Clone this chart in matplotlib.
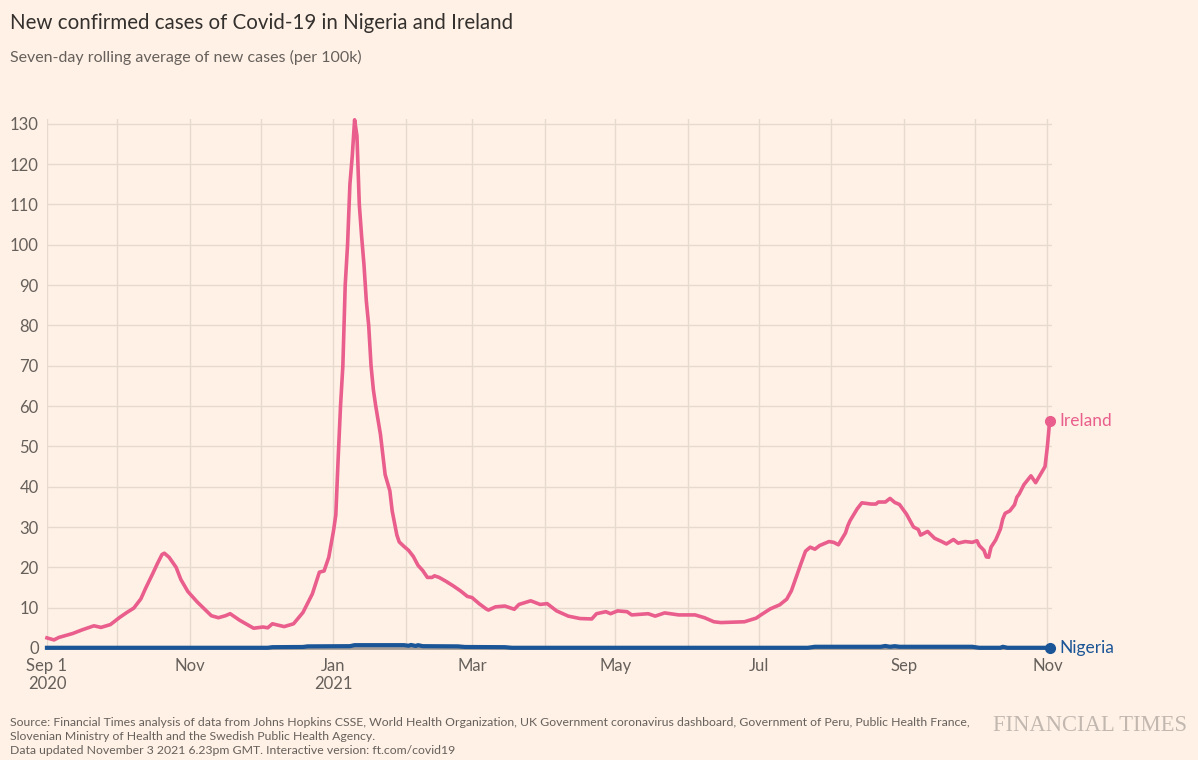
import numpy as np
import pandas as pd
import matplotlib
matplotlib.use("Agg")
import matplotlib.pyplot as plt
import matplotlib.dates as mdates

# Ireland, seven-day average of new cases per 100k
ireland_dates = [
    "2020-09-01", "2020-09-04", "2020-09-06", "2020-09-09", "2020-09-12", "2020-09-16",
    "2020-09-21", "2020-09-24", "2020-09-28", "2020-10-02", "2020-10-05", "2020-10-08",
    "2020-10-11", "2020-10-13", "2020-10-16", "2020-10-18", "2020-10-20", "2020-10-21",
    "2020-10-23", "2020-10-26", "2020-10-28", "2020-10-31", "2020-11-04", "2020-11-07",
    "2020-11-10", "2020-11-13", "2020-11-16", "2020-11-18", "2020-11-22", "2020-11-25",
    "2020-11-28", "2020-12-02", "2020-12-04", "2020-12-06", "2020-12-11", "2020-12-15",
    "2020-12-19", "2020-12-23", "2020-12-26", "2020-12-28", "2020-12-30", "2021-01-01",
    "2021-01-02", "2021-01-03", "2021-01-04", "2021-01-05", "2021-01-06", "2021-01-07",
    "2021-01-08", "2021-01-09", "2021-01-10", "2021-01-11", "2021-01-12", "2021-01-13",
    "2021-01-14", "2021-01-15", "2021-01-16", "2021-01-17", "2021-01-18", "2021-01-19",
    "2021-01-21", "2021-01-22", "2021-01-23", "2021-01-24", "2021-01-25", "2021-01-26",
    "2021-01-27", "2021-01-28", "2021-01-29", "2021-01-31", "2021-02-02", "2021-02-04",
    "2021-02-06", "2021-02-08", "2021-02-10", "2021-02-12", "2021-02-13", "2021-02-15",
    "2021-02-18", "2021-02-21", "2021-02-24", "2021-02-27", "2021-03-01", "2021-03-04",
    "2021-03-07", "2021-03-08", "2021-03-11", "2021-03-15", "2021-03-19", "2021-03-21",
    "2021-03-26", "2021-03-30", "2021-04-02", "2021-04-06", "2021-04-11", "2021-04-16",
    "2021-04-21", "2021-04-23", "2021-04-27", "2021-04-29", "2021-05-02", "2021-05-06",
    "2021-05-08", "2021-05-15", "2021-05-18", "2021-05-22", "2021-05-28", "2021-06-04",
    "2021-06-08", "2021-06-12", "2021-06-15", "2021-06-25", "2021-06-30", "2021-07-02",
    "2021-07-06", "2021-07-10", "2021-07-13", "2021-07-15", "2021-07-17", "2021-07-19",
    "2021-07-21", "2021-07-23", "2021-07-25", "2021-07-27", "2021-07-31", "2021-08-02",
    "2021-08-04", "2021-08-07", "2021-08-08", "2021-08-09", "2021-08-12", "2021-08-14",
    "2021-08-18", "2021-08-20", "2021-08-21", "2021-08-24", "2021-08-26", "2021-08-28",
    "2021-08-30", "2021-09-01", "2021-09-02", "2021-09-05", "2021-09-07", "2021-09-08",
    "2021-09-09", "2021-09-11", "2021-09-14", "2021-09-17", "2021-09-19", "2021-09-22",
    "2021-09-24", "2021-09-27", "2021-09-30", "2021-10-02", "2021-10-03", "2021-10-05",
    "2021-10-06", "2021-10-07", "2021-10-08", "2021-10-10", "2021-10-12", "2021-10-13",
    "2021-10-14", "2021-10-16", "2021-10-18", "2021-10-19", "2021-10-20", "2021-10-22",
    "2021-10-25", "2021-10-27", "2021-10-29", "2021-10-31", "2021-11-01", "2021-11-02",
]
ireland_values = [
    2.5, 2.0, 2.6, 3.1, 3.6, 4.5,
    5.5, 5.1, 5.8, 7.6, 8.8, 9.9,
    12.2, 14.8, 18.4, 20.9, 23.2, 23.5,
    22.5, 20.0, 17.0, 14.0, 11.4, 9.7,
    8.0, 7.5, 8.0, 8.5, 6.9, 5.9,
    4.9, 5.2, 5.0, 6.0, 5.3, 6.0,
    8.8, 13.4, 18.8, 19.1, 22.5, 29.0,
    33.0, 47.0, 60.0, 70.0, 90.0, 100.0,
    115.0, 122.0, 131.0, 127.0, 110.0, 102.0,
    95.0, 86.0, 80.0, 70.0, 64.0, 60.0,
    53.0, 48.0, 43.0, 41.0, 39.0, 34.0,
    31.0, 28.0, 26.3, 25.2, 24.2, 22.7,
    20.5, 19.2, 17.5, 17.5, 17.9, 17.5,
    16.5, 15.4, 14.2, 12.8, 12.5, 11.0,
    9.7, 9.4, 10.2, 10.4, 9.6, 10.8,
    11.7, 10.8, 11.0, 9.2, 7.9, 7.3,
    7.2, 8.5, 9.0, 8.5, 9.2, 9.0,
    8.2, 8.5, 7.9, 8.7, 8.2, 8.2,
    7.5, 6.5, 6.3, 6.5, 7.4, 8.2,
    9.7, 10.7, 12.1, 14.2, 17.5, 20.8,
    24.0, 25.0, 24.5, 25.4, 26.4, 26.2,
    25.6, 28.5, 30.3, 31.6, 34.5, 36.0,
    35.7, 35.7, 36.2, 36.2, 37.1, 36.1,
    35.6, 34.0, 33.2, 30.0, 29.4, 28.0,
    28.3, 28.9, 27.2, 26.4, 25.8, 26.9,
    26.0, 26.4, 26.2, 26.6, 25.4, 24.2,
    22.6, 22.5, 25.0, 26.8, 29.5, 32.0,
    33.4, 34.0, 35.5, 37.4, 38.2, 40.5,
    42.7, 41.0, 43.0, 45.0, 50.0, 56.4,
]

# Nigeria stays close to zero
nigeria_dates = [
    "2020-09-01", "2020-12-04", "2020-12-06", "2020-12-19", "2020-12-21", "2021-01-08",
    "2021-01-10", "2021-01-31", "2021-02-02", "2021-02-03", "2021-02-05", "2021-02-06",
    "2021-02-08", "2021-02-23", "2021-02-26", "2021-03-15", "2021-03-18", "2021-07-22",
    "2021-07-25", "2021-08-22", "2021-08-24", "2021-08-26", "2021-08-28", "2021-08-30",
    "2021-09-30", "2021-10-03", "2021-10-12", "2021-10-13", "2021-10-15", "2021-11-02",
]
nigeria_values = [
    0.05, 0.05, 0.2, 0.25, 0.4, 0.45,
    0.7, 0.7, 0.55, 0.75, 0.5, 0.7,
    0.45, 0.4, 0.25, 0.2, 0.05, 0.05,
    0.3, 0.3, 0.5, 0.3, 0.45, 0.3,
    0.3, 0.05, 0.05, 0.3, 0.05, 0.05,
]

tick_dates = ["2020-09-01", "2020-11-01", "2021-01-01", "2021-03-01",
              "2021-05-01", "2021-07-01", "2021-09-01", "2021-11-01"]
tick_labels = ["Sep 1\n2020", "Nov", "Jan\n2021", "Mar", "May", "Jul", "Sep", "Nov"]
y_ticks = list(range(0, 131, 10))

title = "New confirmed cases of Covid-19 in Nigeria and Ireland"
subtitle = "Seven-day rolling average of new cases (per 100k)"
source_lines = [
    "Source: Financial Times analysis of data from Johns Hopkins CSSE, World Health Organization, "
    "UK Government coronavirus dashboard, Government of Peru, Public Health France,",
    "Slovenian Ministry of Health and the Swedish Public Health Agency.",
    "Data updated November 3 2021 6.23pm GMT. Interactive version: ft.com/covid19",
]

bg = "#fff1e5"
pink = "#e95e8c"
blue = "#1a5597"
grey_text = "#66605c"
grid_col = "#e6d9ce"

plt.rcParams["font.family"] = ["Lato", "DejaVu Sans"]

fig = plt.figure(figsize=(11.98, 7.6), dpi=100, facecolor=bg)
ax = fig.add_axes([0.0392, 0.1474, 0.8390, 0.6960])
ax.set_facecolor(bg)

ire_x = pd.to_datetime(ireland_dates)
nig_x = pd.to_datetime(nigeria_dates)

ax.axhline(0, color="#a59c96", lw=2, zorder=2, clip_on=False)
ax.plot(nig_x, nigeria_values, color=blue, lw=3, zorder=3, solid_joinstyle="round",
        clip_on=False)
ax.plot(ire_x, ireland_values, color=pink, lw=2.6, zorder=4, solid_joinstyle="round",
        clip_on=False)
ax.plot(nig_x[-1], nigeria_values[-1], "o", color=blue, ms=7, zorder=5, clip_on=False)
ax.plot(ire_x[-1], ireland_values[-1], "o", color=pink, ms=7, zorder=5, clip_on=False)

ax.annotate("Ireland", (ire_x[-1], ireland_values[-1]), xytext=(7, 0),
            textcoords="offset points", va="center", ha="left",
            color=pink, fontsize=12.5, annotation_clip=False)
ax.annotate("Nigeria", (nig_x[-1], nigeria_values[-1]), xytext=(7, 0),
            textcoords="offset points", va="center", ha="left",
            color=blue, fontsize=12.5, annotation_clip=False)

ax.set_xlim(pd.Timestamp("2020-09-01"), pd.Timestamp("2021-11-03"))
ax.set_ylim(0, 131.2)

ax.set_yticks(y_ticks)
ax.set_xticks(pd.to_datetime(tick_dates))
ax.set_xticklabels(tick_labels)
ax.xaxis.set_minor_locator(mdates.MonthLocator())
ax.tick_params(axis="both", which="both", length=0, colors=grey_text, labelsize=12)
ax.tick_params(axis="x", pad=7)
ax.tick_params(axis="y", pad=6)
ax.grid(True, which="both", axis="x", color=grid_col, lw=1)
ax.grid(True, which="major", axis="y", color=grid_col, lw=1)
ax.set_axisbelow(True)
for s in ax.spines.values():
    s.set_visible(False)

fig.text(0.0083, 0.970, title, fontsize=14.8, color="#33302e", va="center", ha="left")
fig.text(0.0083, 0.925, subtitle, fontsize=11.5, color=grey_text, va="center", ha="left")
for i, line in enumerate(source_lines):
    fig.text(0.0083, 0.050 - i * 0.0185, line, fontsize=8.8, color=grey_text,
             va="center", ha="left")
fig.text(0.991, 0.046, "FINANCIAL TIMES", fontsize=16.3, color="#c2b8b0",
         va="center", ha="right", family="Liberation Serif")

fig.savefig("out.png", dpi=100, facecolor=bg)
